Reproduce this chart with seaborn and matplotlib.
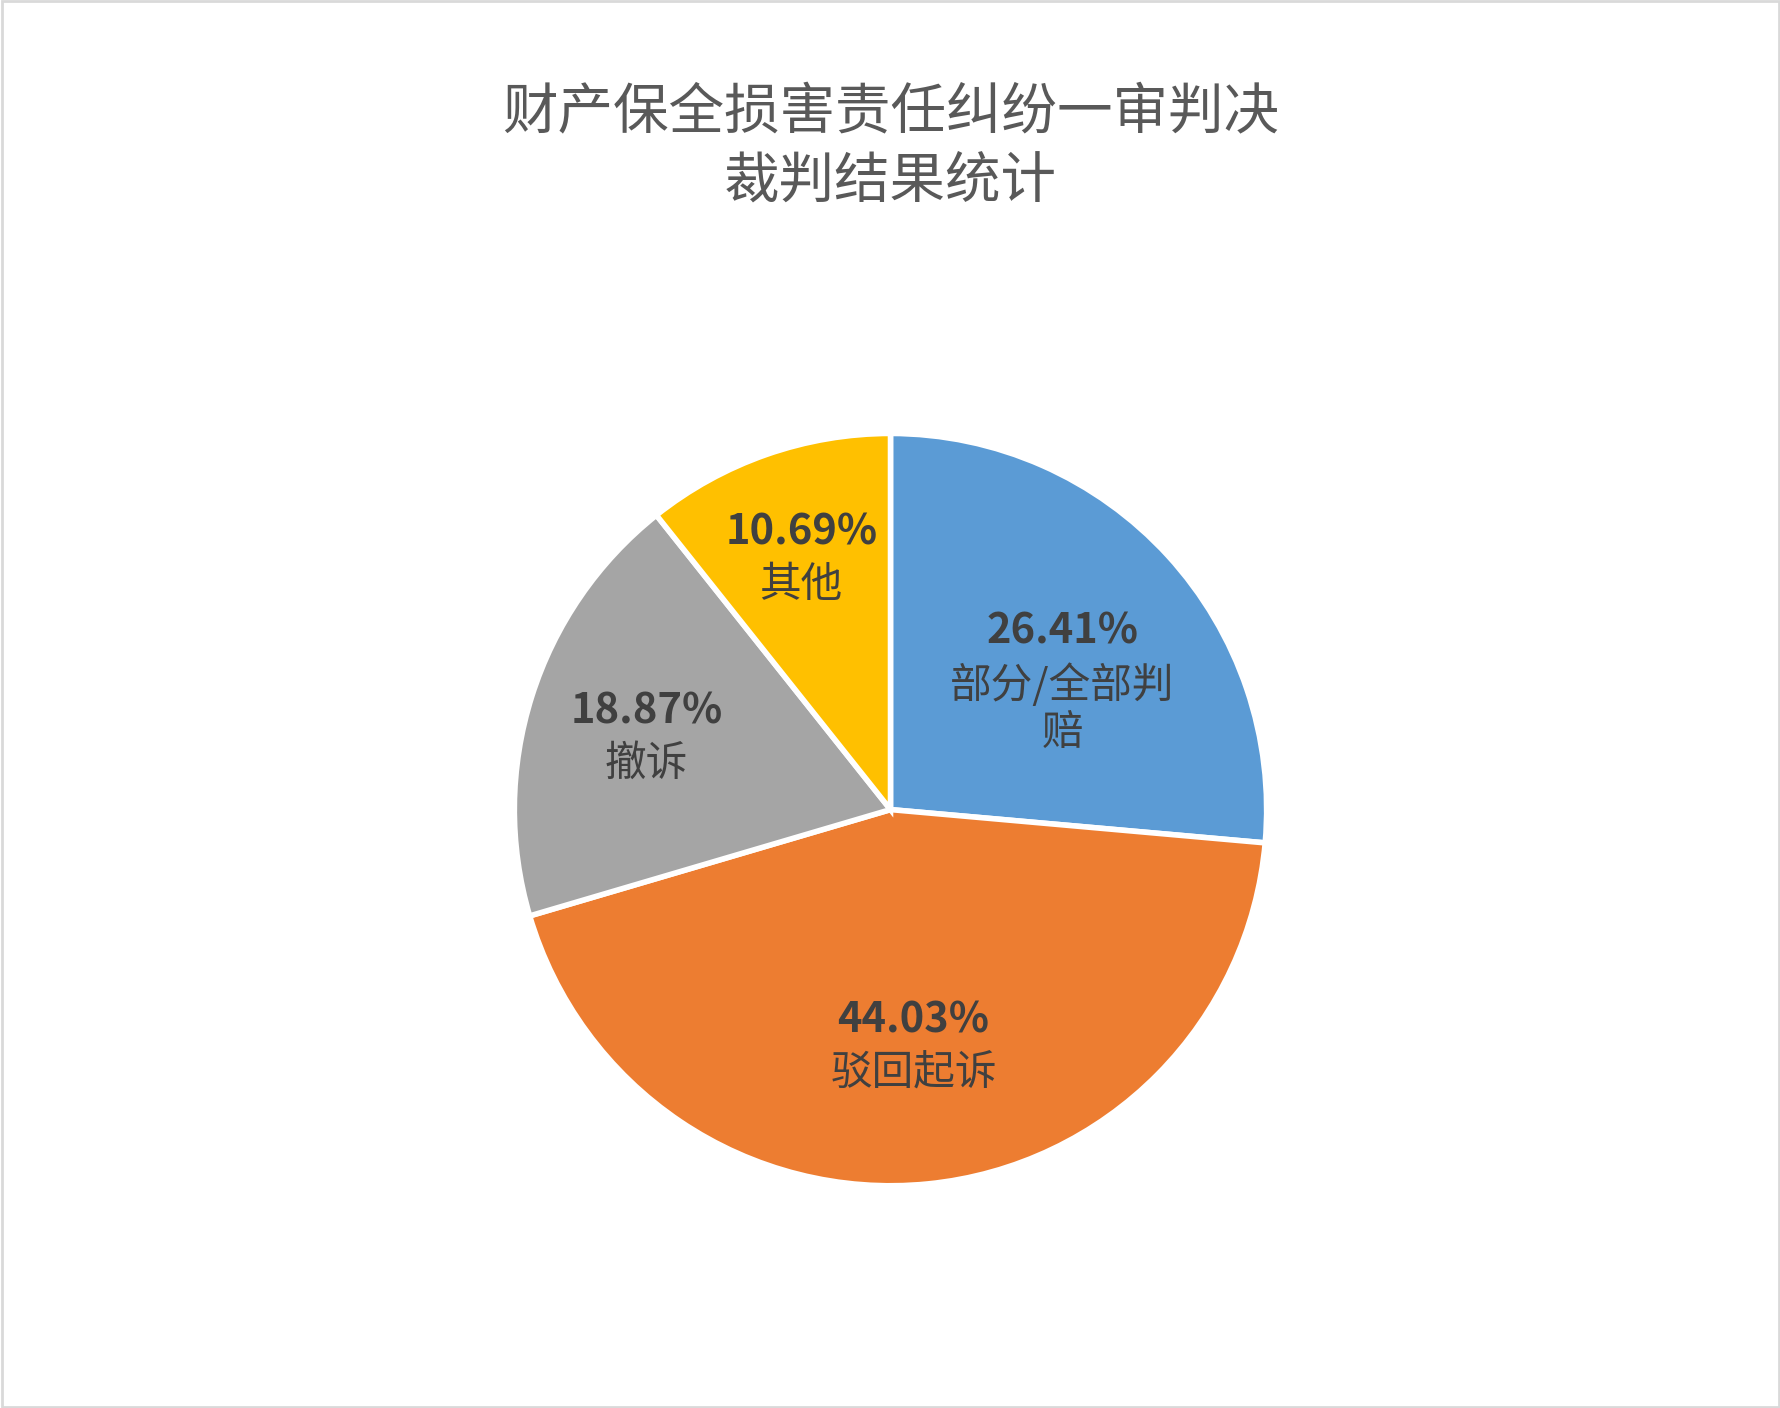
import numpy as np
import seaborn as sns
import matplotlib.pyplot as plt
from matplotlib.patches import Rectangle

sns.set_theme(style="white")
plt.rcParams["font.family"] = ["Noto Sans CJK SC", "DejaVu Sans"]

categories = ["部分/全部判\n赔", "驳回起诉", "撤诉", "其他"]
values = [26.41, 44.03, 18.87, 10.69]
colors = ["#5B9BD5", "#ED7D31", "#A5A5A5", "#FFC000"]

fig = plt.figure(figsize=(17.81, 14.08), dpi=100)
ax = fig.add_axes([0.5 - 0.264, 0.425 - 0.334, 0.528, 0.668])
wedges, _ = ax.pie(values, colors=colors, startangle=90, counterclock=False,
                   wedgeprops=dict(edgecolor="white", linewidth=4))
ax.set_aspect("equal")

dists = [0.62, 0.62, 0.68, 0.72]
for w, v, c, d in zip(wedges, values, categories, dists):
    mid = np.deg2rad((w.theta1 + w.theta2) / 2)
    x, y = d * np.cos(mid), d * np.sin(mid)
    ax.text(x, y, f"{v:.2f}%", ha="center", va="bottom", fontsize=30,
            fontweight="bold", color="#404040")
    ax.text(x, y - 0.03, c, ha="center", va="top", fontsize=30,
            color="#404040", linespacing=1.2)

fig.text(0.5, 0.895, "财产保全损害责任纠纷一审判决\n裁判结果统计", ha="center",
         va="center", fontsize=40, color="#595959", linespacing=1.25)
fig.patches.append(Rectangle((0.001, 0.001), 0.998, 0.998, transform=fig.transFigure,
                             fill=False, edgecolor="#D9D9D9", linewidth=2))
fig.savefig("out.png", dpi=100, facecolor="white")
